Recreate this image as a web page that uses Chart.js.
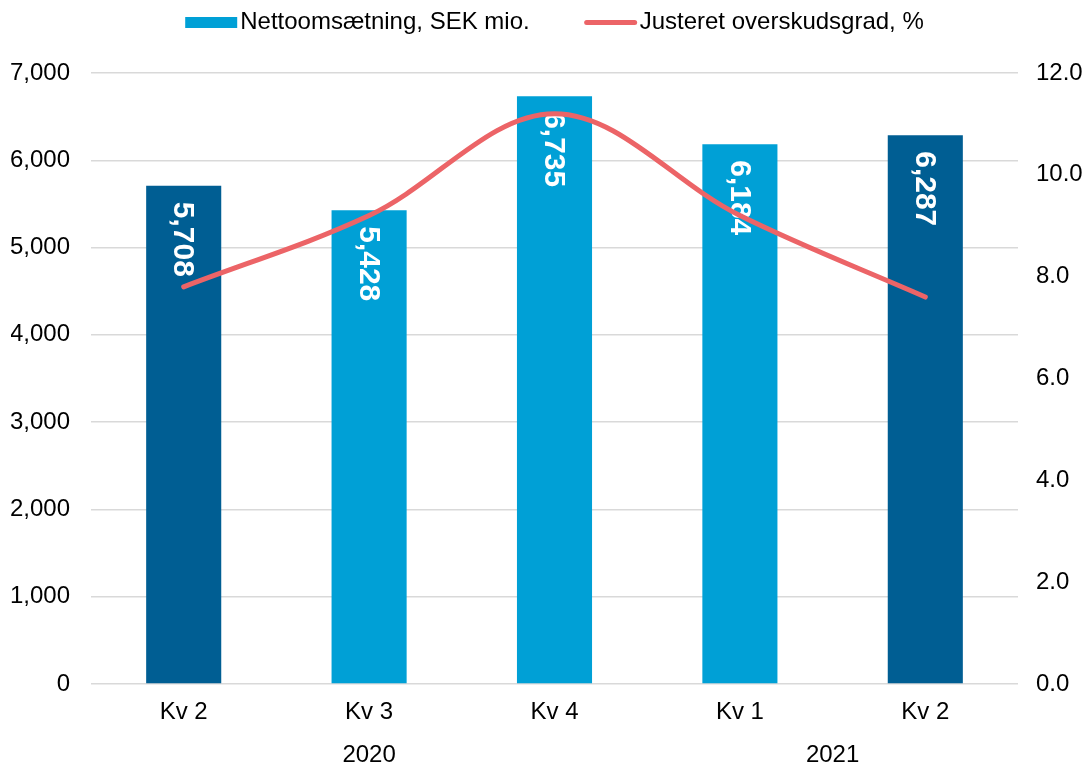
<!DOCTYPE html>
<html>
<head>
<meta charset="utf-8">
<script src="https://cdn.jsdelivr.net/npm/chart.js@4.4.1/dist/chart.umd.min.js"></script>
<style>
  html, body { margin: 0; padding: 0; background: #fff; }
  #wrap { width: 1089px; height: 765px; }
</style>
</head>
<body>
<div id="wrap"><canvas id="chart"></canvas></div>
<script>
const quarters = ['Kv 2', 'Kv 3', 'Kv 4', 'Kv 1', 'Kv 2'];
const years = ['2020', '2021'];
const yearSpans = [[0, 2], [3, 4]];
const netSales = [5708, 5428, 6735, 6184, 6287];
const margin = [7.8, 9.2, 11.2, 9.2, 7.6];
const barColors = ['#005e93', '#00a0d6', '#00a0d6', '#00a0d6', '#005e93'];
const salesLabel = 'Nettoomsætning, SEK mio.';
const marginLabel = 'Justeret overskudsgrad, %';

const FONT = "'Liberation Sans', Arial, sans-serif";
const LIGHT = '#00a0d6';
const RED = '#ec6467';
const SIZE = 24;

// white rotated value labels inside the top of each bar
const barLabels = {
  id: 'barLabels',
  afterDatasetDraw(chart, args) {
    if (args.index !== 1) return;
    const ctx = chart.ctx;
    ctx.save();
    ctx.fillStyle = '#fff';
    ctx.font = 'bold 30px ' + FONT;
    ctx.textAlign = 'left';
    ctx.textBaseline = 'middle';
    args.meta.data.forEach((bar, i) => {
      ctx.save();
      ctx.translate(bar.x, bar.y + 16);
      ctx.rotate(Math.PI / 2);
      ctx.fillText(netSales[i].toLocaleString('en-US'), 0, 1);
      ctx.restore();
    });
    ctx.restore();
  }
};

// year row under the quarter labels + legend
const extras = {
  id: 'extras',
  afterDraw(chart) {
    const ctx = chart.ctx;
    const x = chart.scales.x;
    const area = chart.chartArea;
    ctx.save();
    ctx.fillStyle = '#000';
    ctx.font = SIZE + 'px ' + FONT;
    ctx.textAlign = 'center';
    ctx.textBaseline = 'alphabetic';
    years.forEach((y, i) => {
      const [a, b] = yearSpans[i];
      const cx = (x.getPixelForValue(a) + x.getPixelForValue(b)) / 2;
      ctx.fillText(y, cx, 762);
    });

    // legend
    const boxW = 52, gap = 3, itemGap = 55;
    const w1 = ctx.measureText(salesLabel).width;
    const w2 = ctx.measureText(marginLabel).width;
    const total = boxW + gap + w1 + itemGap + boxW + gap + w2;
    let lx = (area.left + area.right) / 2 - total / 2;
    ctx.textAlign = 'left';
    ctx.fillStyle = LIGHT;
    ctx.fillRect(lx, 17, boxW, 11);
    lx += boxW + gap;
    ctx.fillStyle = '#000';
    ctx.fillText(salesLabel, lx, 29);
    lx += w1 + itemGap;
    ctx.strokeStyle = RED;
    ctx.lineWidth = 5;
    ctx.lineCap = 'round';
    ctx.beginPath();
    ctx.moveTo(lx + 2, 22.5);
    ctx.lineTo(lx + boxW - 2, 22.5);
    ctx.stroke();
    lx += boxW + gap;
    ctx.fillText(marginLabel, lx, 29);
    ctx.restore();
  }
};

new Chart(document.getElementById('chart'), {
  data: {
    labels: quarters,
    datasets: [
      {
        type: 'line',
        label: marginLabel,
        data: margin,
        yAxisID: 'y2',
        borderColor: RED,
        borderWidth: 5,
        pointRadius: 0,
        tension: 0.35,
        borderCapStyle: 'round'
      },
      {
        type: 'bar',
        label: salesLabel,
        data: netSales,
        yAxisID: 'y',
        backgroundColor: barColors,
        barPercentage: 0.405,
        categoryPercentage: 1
      }
    ]
  },
  options: {
    responsive: true,
    maintainAspectRatio: false,
    animation: false,
    layout: { padding: { top: 73, left: 11, right: 6, bottom: 38 } },
    plugins: {
      legend: { display: false },
      tooltip: { enabled: false }
    },
    scales: {
      x: {
        grid: { display: false, drawTicks: false },
        border: { display: false },
        ticks: { color: '#000', font: { family: FONT, size: SIZE }, padding: 14 },
        afterFit: s => { s.height = 43; }
      },
      y: {
        position: 'left',
        min: 0,
        max: 7000,
        ticks: {
          stepSize: 1000,
          color: '#000',
          font: { family: FONT, size: SIZE },
          padding: 21,
          callback: v => v.toLocaleString('en-US')
        },
        grid: { color: '#d9d9d9', lineWidth: 1.5, drawTicks: false },
        border: { display: false },
        afterFit: s => { s.width = 80; }
      },
      y2: {
        position: 'right',
        min: 0,
        max: 12,
        ticks: {
          stepSize: 2,
          color: '#000',
          font: { family: FONT, size: SIZE },
          padding: 18,
          callback: v => v.toFixed(1)
        },
        grid: { display: false, drawTicks: false },
        border: { display: false },
        afterFit: s => { s.width = 65; }
      }
    }
  },
  plugins: [barLabels, extras]
});
</script>
</body>
</html>
